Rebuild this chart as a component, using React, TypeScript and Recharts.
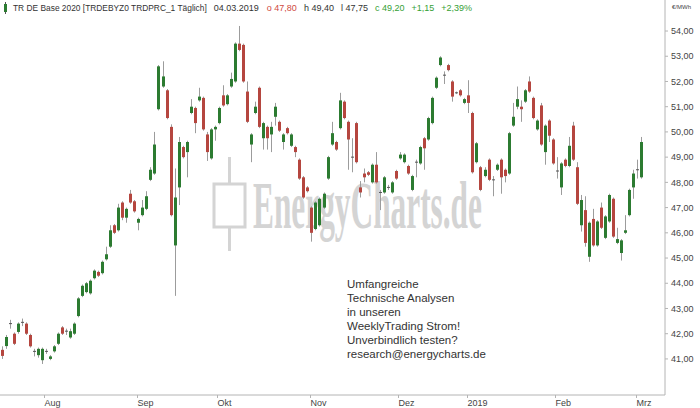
import { ComposedChart, Bar, XAxis, YAxis } from 'recharts';

// Daily OHLC, TR DE Base 2020, 17.07.2018 .. 04.03.2019 (one entry per trading day)
const OPEN = [
  41.36, 41.51, 42.4, 42.0, 42.07, 42.45, 42.4, 41.95, 41.3, 41.15,
  40.95, 41.3, 41.0, 41.3, 41.6, 42.25, 42.1, 41.85, 42.0, 42.7,
  43.5, 43.65, 43.6, 44.2, 44.45, 44.4, 44.95, 45.45, 46.3, 46.1,
  47.2, 46.6, 47.55, 47.25, 46.4, 46.7, 46.95, 48.1, 48.35, 50.9,
  51.8, 51.65, 50.2, 45.5, 47.8, 49.4, 49.2, 50.75, 50.95, 51.25,
  51.35, 49.9, 48.95, 50.1, 50.35, 51.45, 51.1, 51.8, 52.0, 53.5,
  53.45, 51.6, 49.5, 50.75, 51.75, 49.75, 50.2, 49.9, 50.6, 50.4,
  49.6, 50.15, 49.45, 49.4, 48.9, 48.2, 47.8, 47.0, 46.15, 46.3,
  47.0, 48.15, 49.5, 49.6, 50.15, 51.2, 50.4, 49.0, 50.35, 47.8,
  48.35, 48.4, 48.0, 48.7, 47.6, 47.6, 47.8, 47.6, 48.45, 48.95,
  48.8, 48.65, 47.7, 48.8, 48.75, 49.75, 49.7, 50.35, 51.75, 52.65,
  52.25, 52.65, 52.0, 51.55, 51.65, 51.15, 51.45, 50.75, 48.8, 48.6,
  48.25, 48.9, 48.1, 48.5, 48.9, 48.5, 48.35, 50.25, 51.0, 51.0,
  51.2, 52.0, 51.35, 50.1, 51.05, 49.2, 50.45, 49.7, 48.45, 47.8,
  48.9, 48.65, 50.25, 48.6, 46.3, 46.9, 45.05, 46.55, 45.5, 47.0,
  45.8, 46.45, 47.35, 45.6, 45.2, 46.0, 46.7, 47.8, 48.5, 48.2,
];
const HIGH = [
  41.5, 41.95, 42.55, 42.05, 42.45, 42.6, 42.45, 42.0, 41.4, 41.45,
  41.45, 41.4, 41.15, 41.55, 42.05, 42.3, 42.2, 42.2, 42.45, 43.45,
  43.95, 44.05, 44.15, 44.55, 44.5, 44.9, 45.45, 46.3, 46.35, 47.15,
  47.25, 47.0, 47.7, 47.3, 46.6, 47.3, 47.65, 48.6, 50.0, 52.65,
  52.8, 51.7, 50.3, 48.55, 49.8, 49.45, 49.65, 51.3, 51.0, 51.75,
  51.4, 50.0, 50.15, 50.25, 51.0, 51.85, 51.5, 52.35, 53.55, 54.2,
  53.5, 52.0, 49.95, 51.2, 51.8, 50.4, 50.25, 50.4, 51.15, 50.45,
  49.95, 50.2, 49.95, 49.45, 48.95, 48.25, 47.85, 47.05, 47.25, 47.4,
  47.6, 49.05, 50.4, 49.65, 51.55, 51.25, 50.45, 49.75, 50.4, 48.05,
  48.55, 48.45, 48.75, 49.2, 47.7, 48.25, 47.9, 48.05, 48.5, 49.2,
  49.15, 48.7, 48.3, 48.9, 49.45, 49.8, 50.6, 51.4, 52.2, 53.0,
  52.4, 52.7, 52.05, 51.6, 51.7, 51.35, 52.05, 50.8, 49.6, 48.65,
  48.6, 48.95, 48.25, 48.75, 48.95, 48.55, 50.0, 51.15, 51.8, 51.25,
  51.7, 52.2, 51.4, 50.5, 51.15, 50.3, 50.5, 49.75, 49.0, 48.8,
  48.95, 49.8, 50.4, 48.8, 47.5, 47.45, 46.45, 46.95, 46.5, 47.2,
  46.7, 47.55, 47.4, 46.2, 45.75, 46.7, 47.75, 48.5, 48.9, 49.8,
];
const LOW = [
  41.0, 41.4, 42.2, 41.55, 42.0, 42.3, 41.95, 41.45, 41.1, 41.05,
  40.8, 41.2, 40.95, 41.25, 41.55, 41.95, 41.95, 41.8, 41.95, 42.65,
  43.45, 43.6, 43.55, 44.15, 44.25, 44.35, 44.9, 45.4, 45.95, 46.05,
  46.5, 46.4, 47.15, 46.8, 46.1, 46.65, 46.9, 48.05, 48.3, 50.85,
  51.75, 50.5, 46.65, 43.5, 47.1, 48.95, 48.2, 50.7, 49.95, 51.2,
  50.05, 48.85, 48.9, 49.65, 50.3, 51.0, 51.05, 51.75, 51.95, 53.2,
  51.95, 50.35, 48.8, 50.7, 50.15, 49.3, 49.3, 49.2, 50.25, 50.0,
  49.3, 49.9, 49.4, 49.0, 48.1, 47.35, 47.6, 45.65, 46.1, 46.25,
  46.95, 48.1, 49.45, 49.25, 50.1, 50.5, 48.5, 48.4, 48.75, 47.4,
  48.0, 48.25, 47.95, 47.95, 46.9, 47.55, 47.7, 47.55, 48.1, 48.9,
  48.75, 48.3, 47.65, 48.2, 48.7, 48.5, 49.65, 50.3, 51.7, 52.6,
  51.9, 52.4, 51.2, 51.5, 51.4, 51.1, 50.75, 48.35, 48.75, 47.65,
  48.2, 48.05, 47.45, 48.45, 47.55, 48.0, 48.3, 50.2, 50.9, 50.4,
  51.15, 51.55, 50.5, 50.05, 49.45, 48.7, 49.6, 48.7, 48.15, 47.5,
  48.6, 48.6, 48.85, 47.1, 46.05, 45.45, 44.85, 45.45, 45.45, 46.15,
  45.75, 46.4, 45.8, 45.55, 44.9, 45.95, 46.65, 47.35, 48.15, 48.15,
];
const CLOSE = [
  41.12, 41.87, 42.4, 41.6, 42.4, 42.45, 42.0, 41.5, 41.3, 41.4,
  41.4, 41.3, 41.1, 41.5, 42.0, 42.0, 42.1, 42.1, 42.4, 43.4,
  43.9, 44.0, 44.1, 44.5, 44.3, 44.85, 45.15, 46.1, 46.0, 47.0,
  46.6, 46.95, 47.2, 46.85, 46.55, 47.0, 47.45, 48.5, 49.5, 52.6,
  52.2, 50.55, 46.7, 47.4, 49.6, 49.0, 49.6, 51.0, 50.35, 51.4,
  50.1, 49.2, 50.1, 50.2, 50.95, 51.05, 51.45, 52.1, 53.5, 53.25,
  52.0, 50.4, 49.9, 51.0, 50.2, 50.35, 49.75, 50.2, 51.0, 50.05,
  49.9, 49.95, 49.9, 49.2, 48.15, 47.4, 47.65, 46.0, 47.2, 47.35,
  47.55, 49.0, 49.95, 49.3, 51.25, 50.55, 49.7, 49.0, 48.8, 47.6,
  48.2, 48.3, 48.7, 48.0, 47.6, 48.2, 47.8, 48.0, 48.15, 49.1,
  49.1, 48.35, 48.25, 48.8, 49.4, 49.35, 50.55, 51.35, 52.15, 52.95,
  52.25, 52.45, 51.4, 51.55, 51.45, 51.3, 51.15, 48.4, 49.55, 47.7,
  48.5, 48.1, 48.1, 48.7, 48.2, 48.25, 49.95, 50.6, 51.3, 50.9,
  51.65, 51.6, 50.55, 50.45, 49.5, 50.25, 49.85, 48.75, 48.45, 48.75,
  48.65, 49.45, 48.9, 47.15, 47.3, 45.6, 46.4, 45.5, 46.45, 46.2,
  46.65, 47.5, 45.85, 45.75, 45.7, 46.1, 47.7, 48.35, 48.5, 49.6,
];

// first trading day of each month (index into the arrays above)
const MONTH_TICKS = [11, 34, 54, 77, 99, 116, 138, 158];
const MONTH_LABELS = ['Aug', 'Sep', 'Okt', 'Nov', 'Dez', '2019', 'Feb', 'Mrz'];
const PRICE_TICKS = [41, 42, 43, 44, 45, 46, 47, 48, 49, 50, 51, 52, 53, 54];

const NOTE_LINES = [
  'Umfangreiche',
  'Technische Analysen',
  'in unseren',
  'WeeklyTrading Strom!',
  'Unverbindlich testen?',
  'research@energycharts.de',
];

const UP = '#2c7b31';
const DOWN = '#b5463f';
const WICK = '#9c9c9c';
const AXIS = '#b4b4b4';
const FONT = '"Liberation Sans", Arial, sans-serif';

const data = OPEN.map((o, i) => ({
  i,
  o,
  h: HIGH[i],
  l: LOW[i],
  c: CLOSE[i],
  range: [LOW[i], HIGH[i]],
}));

function Candle(props: any) {
  const { x, width, payload } = props;
  let y = props.y;
  let height = props.height;
  if (height < 0) {
    y += height;
    height = -height;
  }
  const { o, h, l, c } = payload;
  const k = height / (h - l);
  const cx = Math.floor(x + width / 2);
  const top = y + (h - Math.max(o, c)) * k;
  const bot = y + (h - Math.min(o, c)) * k;
  const doji = Math.abs(o - c) < 0.001;
  const fill = doji ? '#555' : c > o ? UP : DOWN;
  return (
    <g>
      <line x1={cx + 0.5} x2={cx + 0.5} y1={y} y2={y + height} stroke={WICK} strokeWidth={1} />
      {doji ? (
        <line x1={cx - 1} x2={cx + 2} y1={top} y2={top} stroke={fill} strokeWidth={1} />
      ) : (
        <rect x={cx - 1} y={top} width={3} height={Math.max(1, bot - top)} fill={fill} />
      )}
    </g>
  );
}

function MonthTick(props: any) {
  const { x, y, payload } = props;
  const label = MONTH_LABELS[MONTH_TICKS.indexOf(payload.value)];
  // tick sits on the boundary between months, label starts there
  const tx = Math.round(x - 2) + 0.5;
  return (
    <g>
      <line x1={tx} x2={tx} y1={y} y2={y + 3} stroke={AXIS} />
      <text x={tx} y={y + 11} fontSize={9} fill="#444" fontFamily={FONT}>
        {label}
      </text>
    </g>
  );
}

const fmtPrice = (v: number) => v.toFixed(2).replace('.', ',');

export default function App() {
  return (
    <div
      style={{
        position: 'absolute',
        left: 0,
        top: 0,
        width: 700,
        height: 408,
        background: '#fff',
        overflow: 'hidden',
        fontFamily: FONT,
      }}
    >
      {/* watermark: serif bold squeezed to ~229px wide */}
      <svg width={700} height={408} style={{ position: 'absolute', left: 0, top: 0 }}>
        <g stroke="#d4d4d4" strokeWidth={3} fill="none">
          <line x1={229.5} x2={229.5} y1={157} y2={184} />
          <rect x={214} y={184} width={31} height={43} />
          <line x1={229.5} x2={229.5} y1={227} y2={251} />
        </g>
        <text
          transform="translate(253,228) scale(0.461,1)"
          fontFamily='"Liberation Serif", serif'
          fontWeight="bold"
          fontSize={68}
          fill="#d4d4d4"
        >
          EnergyCharts.de
        </text>
      </svg>

      <div style={{ position: 'absolute', left: 0, top: 0 }}>
        <ComposedChart
          width={700}
          height={408}
          data={data}
          margin={{ top: 0, right: 0, bottom: 0, left: 0 }}
          barCategoryGap={0}
        >
          <XAxis
            dataKey="i"
            ticks={MONTH_TICKS}
            interval={0}
            tick={<MonthTick />}
            tickLine={false}
            tickSize={0}
            tickMargin={0}
            height={13}
            padding={{ left: 0, right: 21 }}
            stroke={AXIS}
          />
          <YAxis
            orientation="right"
            width={35}
            domain={[39.57, 55.23]}
            allowDataOverflow
            ticks={PRICE_TICKS}
            interval={0}
            tickFormatter={fmtPrice}
            tick={{ fontSize: 9, fill: '#444', fontFamily: FONT }}
            tickSize={3}
            tickMargin={3}
            stroke={AXIS}
          />
          <Bar dataKey="range" shape={<Candle />} isAnimationActive={false} />
        </ComposedChart>
      </div>

      {/* header line */}
      <div
        style={{
          position: 'absolute',
          left: 3,
          top: 2,
          display: 'flex',
          alignItems: 'center',
          fontSize: 9,
          lineHeight: '12px',
          color: '#333',
          whiteSpace: 'nowrap',
        }}
      >
        <svg width={6} height={12} style={{ marginRight: 4 }}>
          <line x1={2.5} x2={2.5} y1={0} y2={12} stroke="#555" />
          <rect x={1} y={2} width={3} height={8} fill={UP} />
        </svg>
        <span style={{ fontSize: 8.4 }}>TR DE Base 2020 [TRDEBYZ0 TRDPRC_1 Täglich]</span>
        <span style={{ marginLeft: 7 }}>04.03.2019</span>
        <span style={{ marginLeft: 8, color: '#d04a40' }}>o 47,80</span>
        <span style={{ marginLeft: 7 }}>h 49,40</span>
        <span style={{ marginLeft: 7 }}>l 47,75</span>
        <span style={{ marginLeft: 7, color: '#35a035' }}>c 49,20</span>
        <span style={{ marginLeft: 7, color: '#35a035' }}>+1,15</span>
        <span style={{ marginLeft: 7, color: '#35a035' }}>+2,39%</span>
      </div>

      <div style={{ position: 'absolute', left: 672, top: 4, fontSize: 6, color: '#444' }}>€/MWh</div>

      {/* promo note */}
      <div
        style={{
          position: 'absolute',
          left: 347,
          top: 277,
          fontSize: 11.5,
          lineHeight: '14px',
          color: '#333',
          whiteSpace: 'nowrap',
        }}
      >
        {NOTE_LINES.map((t) => (
          <div key={t}>{t}</div>
        ))}
      </div>
    </div>
  );
}
